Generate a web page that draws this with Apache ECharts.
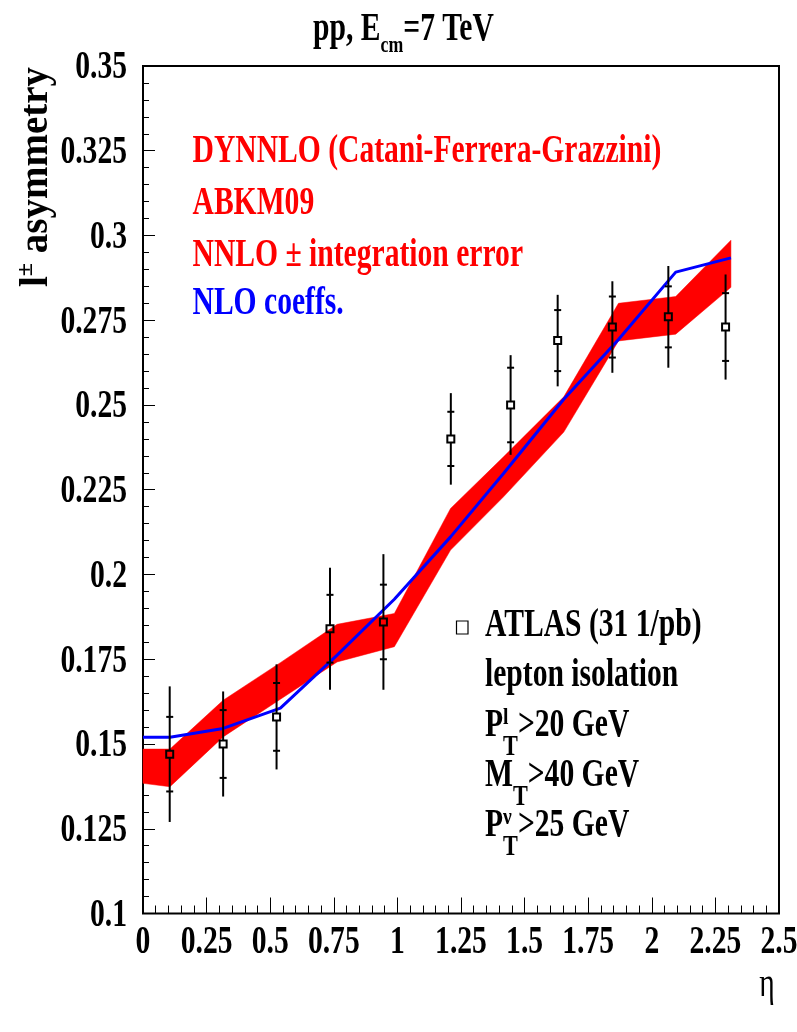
<!DOCTYPE html>
<html>
<head>
<meta charset="utf-8">
<script src="https://cdn.jsdelivr.net/npm/echarts@6/dist/echarts.min.js"></script>
<style>
  html, body { margin: 0; padding: 0; background: #ffffff; }
  #chart { width: 797px; height: 1032px; }
</style>
</head>
<body>
<div id="chart"></div>
<script>
// ATLAS lepton charge asymmetry (31 1/pb), bin centres in |eta|
const etaData  = [0.105, 0.315, 0.525, 0.735, 0.945, 1.21, 1.445, 1.63, 1.845, 2.065, 2.29];
const asymData = [0.147, 0.150, 0.158, 0.184, 0.186, 0.240, 0.250, 0.269, 0.273, 0.276, 0.273];
const statErr  = [0.011, 0.010, 0.010, 0.010, 0.011, 0.008, 0.011, 0.009, 0.009, 0.009, 0.010];
const totErr   = [0.020, 0.0155, 0.0155, 0.018, 0.020, 0.0135, 0.0147, 0.0135, 0.0135, 0.015, 0.0155];

// DYNNLO NNLO prediction (ABKM09) with integration-error envelope
const bandEta  = [0, 0.106, 0.315, 0.54, 0.763, 0.988, 1.209, 1.417, 1.654, 1.869, 2.094, 2.311];
const bandLow  = [0.1384, 0.1374, 0.1521, 0.1632, 0.1742, 0.1787, 0.2072, 0.2229, 0.2420, 0.2689, 0.2709, 0.2847];
const bandHigh = [0.1485, 0.1485, 0.1629, 0.1740, 0.1853, 0.1885, 0.2195, 0.2347, 0.2524, 0.2800, 0.2820, 0.2986];

// NNLO with NLO coefficients
const nloEta    = [0, 0.106, 0.315, 0.54, 0.763, 0.988, 1.209, 1.417, 1.654, 1.869, 2.094, 2.311];
const nloValues = [0.152, 0.152, 0.1546, 0.1606, 0.1762, 0.1927, 0.2111, 0.2298, 0.2517, 0.2693, 0.2892, 0.2934];

// Axis tick labels
const xTickLabels = ['0', '0.25', '0.5', '0.75', '1', '1.25', '1.5', '1.75', '2', '2.25', '2.5'];
const yTickLabels = ['0.1', '0.125', '0.15', '0.175', '0.2', '0.225', '0.25', '0.275', '0.3', '0.325', '0.35'];

const X_MIN = parseFloat(xTickLabels[0]), X_MAX = parseFloat(xTickLabels[xTickLabels.length - 1]);
const Y_MIN = parseFloat(yTickLabels[0]), Y_MAX = parseFloat(yTickLabels[yTickLabels.length - 1]);

const SERIF = '"Liberation Serif", "Times New Roman", serif';
const NARROW = 0.74;   // horizontal squeeze of the Times-like lettering

const chart = echarts.init(document.getElementById('chart'), null, { renderer: 'canvas' });

function txt(x, y, text, opts) {
  opts = opts || {};
  return {
    type: 'text', x: x, y: y, scaleX: opts.scaleX == null ? NARROW : opts.scaleX,
    rotation: opts.rotation || 0, silent: true, z: 20,
    style: {
      text: text, rich: opts.rich,
      fontSize: opts.size || 40, fontFamily: SERIF, fontWeight: opts.weight || 'bold',
      fill: opts.fill || '#000',
      align: opts.align || 'left', verticalAlign: 'middle',
      textAlign: opts.align || 'left', textVerticalAlign: 'middle'
    }
  };
}

function richStyles(fill, H) {
  return {
    n:   { fontSize: 40, fontFamily: SERIF, fontWeight: 'bold', fill: fill, lineHeight: H, verticalAlign: 'middle' },
    sub: { fontSize: 30, fontFamily: SERIF, fontWeight: 'bold', fill: fill, lineHeight: 30, verticalAlign: 'bottom' },
    cm:  { fontSize: 24, fontFamily: SERIF, fontWeight: 'bold', fill: fill, lineHeight: 24, verticalAlign: 'bottom' },
    sup: { fontSize: 24, fontFamily: SERIF, fontWeight: 'bold', fill: fill, lineHeight: 24, verticalAlign: 'top' }
  };
}

// Axis tick labels placed through the axis scales
function tickLabelSeries(labels, dir) {
  return {
    type: 'custom', coordinateSystem: 'cartesian2d', clip: false, silent: true, z: 10,
    data: labels.map(function (s) {
      return dir === 'x' ? [parseFloat(s), Y_MIN] : [X_MIN, parseFloat(s)];
    }),
    renderItem: function (params, api) {
      const p = api.coord([api.value(0), api.value(1)]);
      const label = labels[params.dataIndex];
      if (dir === 'x') {
        return txt(p[0], p[1] + 29, label, { align: 'center' });
      }
      return txt(p[0] - 16, p[1] + 2, label, { align: 'right' });
    }
  };
}

const option = {
  animation: false,
  backgroundColor: '#ffffff',
  grid: {
    left: 143, right: 18, top: 66, bottom: 118.5,
    show: true, borderColor: '#000', borderWidth: 2, backgroundColor: 'transparent'
  },
  xAxis: {
    type: 'value', min: X_MIN, max: X_MAX, interval: 0.25,
    axisLine: { show: false },
    axisLabel: { show: false },
    splitLine: { show: false },
    axisTick: { show: true, inside: true, length: 16, lineStyle: { color: '#000', width: 1 } },
    minorTick: { show: true, splitNumber: 5, length: 8, lineStyle: { color: '#000', width: 1 } },
    minorSplitLine: { show: false }
  },
  yAxis: {
    type: 'value', min: Y_MIN, max: Y_MAX, interval: 0.025,
    axisLine: { show: false },
    axisLabel: { show: false },
    splitLine: { show: false },
    axisTick: { show: true, inside: true, length: 12, lineStyle: { color: '#000', width: 1 } },
    minorTick: { show: true, splitNumber: 5, length: 6, lineStyle: { color: '#000', width: 1 } },
    minorSplitLine: { show: false }
  },
  series: [
    {
      // NNLO band
      type: 'custom', coordinateSystem: 'cartesian2d', silent: true, z: 2,
      data: bandEta.map(function (e, i) { return [e, bandLow[i], bandHigh[i]]; }),
      encode: { x: 0, y: [1, 2] },
      renderItem: function (params, api) {
        if (params.dataIndex !== 0) return null;
        const pts = [];
        for (let i = 0; i < bandEta.length; i++) pts.push(api.coord([bandEta[i], bandHigh[i]]));
        for (let i = bandEta.length - 1; i >= 0; i--) pts.push(api.coord([bandEta[i], bandLow[i]]));
        return { type: 'polygon', shape: { points: pts }, style: { fill: '#ff0000', stroke: '#ff0000', lineWidth: 0.5 } };
      }
    },
    {
      // NLO coefficients curve
      type: 'line', z: 3, silent: true,
      data: nloEta.map(function (e, i) { return [e, nloValues[i]]; }),
      showSymbol: false, symbol: 'none',
      lineStyle: { color: '#0000ff', width: 3 }
    },
    {
      // ATLAS points with statistical ticks and total error bars
      type: 'custom', coordinateSystem: 'cartesian2d', silent: true, z: 4, clip: false,
      data: etaData.map(function (e, i) { return [e, asymData[i], statErr[i], totErr[i]]; }),
      encode: { x: 0, y: 1 },
      renderItem: function (params, api) {
        const x = api.value(0), y = api.value(1), s = api.value(2), t = api.value(3);
        const c = api.coord([x, y]);
        const top = api.coord([x, y + t]), bot = api.coord([x, y - t]);
        const sTop = api.coord([x, y + s]), sBot = api.coord([x, y - s]);
        const h = 3.5, w = 3.5;
        const st = { stroke: '#000', lineWidth: 2 };
        return {
          type: 'group',
          children: [
            { type: 'line', shape: { x1: c[0], y1: top[1], x2: c[0], y2: c[1] - h }, style: st },
            { type: 'line', shape: { x1: c[0], y1: c[1] + h, x2: c[0], y2: bot[1] }, style: st },
            { type: 'line', shape: { x1: c[0] - w, y1: sTop[1], x2: c[0] + w, y2: sTop[1] }, style: st },
            { type: 'line', shape: { x1: c[0] - w, y1: sBot[1], x2: c[0] + w, y2: sBot[1] }, style: st },
            { type: 'rect', shape: { x: c[0] - h, y: c[1] - h, width: 2 * h, height: 2 * h },
              style: { stroke: '#000', lineWidth: 2, fill: 'none' } }
          ]
        };
      }
    },
    tickLabelSeries(xTickLabels, 'x'),
    tickLabelSeries(yTickLabels, 'y')
  ],
  graphic: [
    // title
    txt(403.5, 30, '{n|pp, E}{cm|cm}{n|=7 TeV}', { align: 'center', rich: richStyles('#000', 55) }),
    // y axis title
    txt(37, 177, '{n|l}{sup|\u00b1}{n| asymmetry}', {
      align: 'center', rotation: Math.PI / 2, scaleX: 1,
      rich: (function () {
        const r = richStyles('#000', 46);
        r.n.fontSize = 39;
        return r;
      })()
    }),
    // x axis title
    txt(767, 985, '\u03b7', { align: 'center', weight: 'normal', size: 40 }),
    // theory legend
    txt(192.5, 152, 'DYNNLO (Catani-Ferrera-Grazzini)', { fill: '#ff0000' }),
    txt(192.5, 204, 'ABKM09', { fill: '#ff0000' }),
    txt(192.5, 255.5, 'NNLO \u00b1 integration error', { fill: '#ff0000' }),
    txt(192.5, 303.5, 'NLO coeffs.', { fill: '#0000ff' }),
    // data legend
    { type: 'rect', silent: true, z: 20, shape: { x: 456.5, y: 621, width: 11.5, height: 13 },
      style: { fill: 'none', stroke: '#000', lineWidth: 1.2 } },
    txt(485, 626, 'ATLAS (31 1/pb)'),
    txt(485, 676, 'lepton isolation'),
    txt(485, 726, '{n|P}{sub|T}{n|>20 GeV}', { rich: richStyles('#000', 72) }),
    txt(503, 718, 'l', { size: 23, scaleX: 0.85 }),
    txt(485, 776, '{n|M}{sub|T}{n|>40 GeV}', { rich: richStyles('#000', 72) }),
    txt(485, 826, '{n|P}{sub|T}{n|>25 GeV}', { rich: richStyles('#000', 72) }),
    txt(503, 818, '\u03bd', { size: 23, scaleX: 0.85 })
  ]
};

chart.setOption(option);
</script>
</body>
</html>
